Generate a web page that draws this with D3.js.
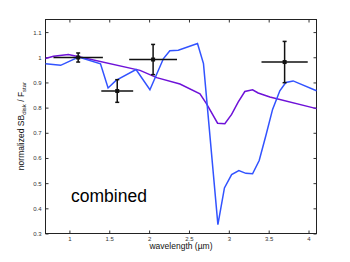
<!DOCTYPE html>
<html lang="en">
<head>
<meta charset="UTF-8">
<title></title>
<script src="https://cdn.jsdelivr.net/npm/d3@7"></script>
<style>
    body{ margin:0; background:#fff; }
    svg{ font-family:"Liberation Sans", Arial, sans-serif; }
    .tick text{ font-size:6px; fill:#333; }
    .tick line{ stroke:#333; }
    .domain{ stroke:none; }
</style>
</head>
<body>
<div id="chart"></div>
<script>
    // model curves (wavelength in um, normalized value)
    var blueWl  = [0.7, 0.89, 1.115, 1.39, 1.485, 1.585, 1.836, 2.01, 2.18, 2.26, 2.366, 2.607, 2.682, 2.863, 2.945, 3.035, 3.126, 3.214, 3.298, 3.381, 3.465, 3.549, 3.64, 3.715, 3.807, 4.1];
    var blueVal = [0.974, 0.968, 1.001, 0.974, 0.878, 0.908, 0.951, 0.871, 0.995, 1.026, 1.028, 1.055, 0.975, 0.335, 0.481, 0.534, 0.550, 0.539, 0.537, 0.590, 0.689, 0.793, 0.867, 0.900, 0.906, 0.867];
    var purpleWl  = [0.7, 0.8, 0.987, 1.134, 1.886, 2.095, 2.387, 2.638, 2.721, 2.859, 2.95, 3.035, 3.117, 3.201, 3.298, 3.368, 3.515, 4.1];
    var purpleVal = [0.995, 1.004, 1.011, 1.001, 0.948, 0.919, 0.894, 0.855, 0.815, 0.738, 0.736, 0.773, 0.822, 0.864, 0.871, 0.858, 0.842, 0.796];
    // measurements
    var obsWl   = [1.11, 1.60, 2.05, 3.70];
    var obsWErr = [0.31, 0.20, 0.30, 0.29];
    var obsVal  = [0.999, 0.866, 0.991, 0.981];
    var obsErr  = [0.018, 0.045, 0.060, 0.082];
    var xTicks = [1, 1.5, 2, 2.5, 3, 3.5, 4];
    var yTicks = [0.3, 0.4, 0.5, 0.6, 0.7, 0.8, 0.9, 1, 1.1];

    var W = 350, H = 262;
    var pL = 45.5, pR = 316.5, pT = 19.5, pB = 233.5;

    var svg = d3.select("#chart").append("svg").attr("width", W).attr("height", H);

    var x = d3.scaleLinear().domain([0.7, 4.1]).range([pL, pR]);
    var y = d3.scaleLinear().domain([0.3, 1.15]).range([pB, pT]);

    // axes, ticks inward
    svg.append("g").attr("transform", "translate(0," + pB + ")")
        .call(d3.axisBottom(x).tickValues(xTicks).tickSize(-3).tickPadding(3).tickFormat(d3.format("")));
    svg.append("g").attr("transform", "translate(0," + pT + ")")
        .call(d3.axisTop(x).tickValues(xTicks).tickSize(-3).tickFormat(""));
    svg.append("g").attr("transform", "translate(" + pL + ",0)")
        .call(d3.axisLeft(y).tickValues(yTicks).tickSize(-3).tickPadding(4).tickFormat(d3.format("")));
    svg.append("g").attr("transform", "translate(" + pR + ",0)")
        .call(d3.axisRight(y).tickValues(yTicks).tickSize(-3).tickFormat(""));

    svg.append("rect").attr("x", pL).attr("y", pT)
        .attr("width", pR - pL).attr("height", pB - pT)
        .attr("fill", "none").attr("stroke", "#222").attr("stroke-width", 1);

    var line = d3.line().x(function(d){ return x(d[0]); }).y(function(d){ return y(d[1]); });

    svg.append("path").datum(d3.zip(purpleWl, purpleVal)).attr("d", line)
        .attr("fill", "none").attr("stroke", "#6e12d8").attr("stroke-width", 1.5);
    svg.append("path").datum(d3.zip(blueWl, blueVal)).attr("d", line)
        .attr("fill", "none").attr("stroke", "#3253ff").attr("stroke-width", 1.5);

    // error bars
    var pts = obsWl.map(function(w, i){ return {w:w, we:obsWErr[i], v:obsVal[i], ve:obsErr[i]}; });
    var g = svg.append("g").attr("stroke", "#111").attr("stroke-width", 1.5);
    g.selectAll(".hb").data(pts).enter().append("line")
        .attr("x1", function(d){ return x(d.w - d.we); })
        .attr("x2", function(d){ return x(d.w + d.we); })
        .attr("y1", function(d){ return y(d.v); })
        .attr("y2", function(d){ return y(d.v); });
    g.selectAll(".vb").data(pts).enter().append("line")
        .attr("x1", function(d){ return x(d.w); })
        .attr("x2", function(d){ return x(d.w); })
        .attr("y1", function(d){ return y(d.v - d.ve); })
        .attr("y2", function(d){ return y(d.v + d.ve); });
    [-1, 1].forEach(function(s){
        g.selectAll(".cap").data(pts).enter().append("line")
            .attr("x1", function(d){ return x(d.w) - 2; })
            .attr("x2", function(d){ return x(d.w) + 2; })
            .attr("y1", function(d){ return y(d.v + s * d.ve); })
            .attr("y2", function(d){ return y(d.v + s * d.ve); });
    });
    svg.selectAll(".mk").data(pts).enter().append("rect")
        .attr("x", function(d){ return x(d.w) - 2; })
        .attr("y", function(d){ return y(d.v) - 2; })
        .attr("width", 4).attr("height", 4).attr("fill", "#111");

    // labels
    svg.append("text").attr("x", 181).attr("y", 249).attr("text-anchor", "middle")
        .attr("font-size", 8.5).attr("fill", "#111").text("wavelength (\u00b5m)");

    var yl = svg.append("text").attr("transform", "translate(24,126) rotate(-90)")
        .attr("text-anchor", "middle").attr("font-size", 8.5).attr("fill", "#111");
    yl.append("tspan").text("normalized SB");
    yl.append("tspan").attr("font-size", 6).attr("dy", 2).text("disk");
    yl.append("tspan").attr("dy", -2).text(" / F");
    yl.append("tspan").attr("font-size", 6).attr("dy", 2).text("star");

    svg.append("text").attr("x", 71).attr("y", 202).attr("font-size", 17.5)
        .attr("fill", "#000").text("combined");
</script>
</body>
</html>
